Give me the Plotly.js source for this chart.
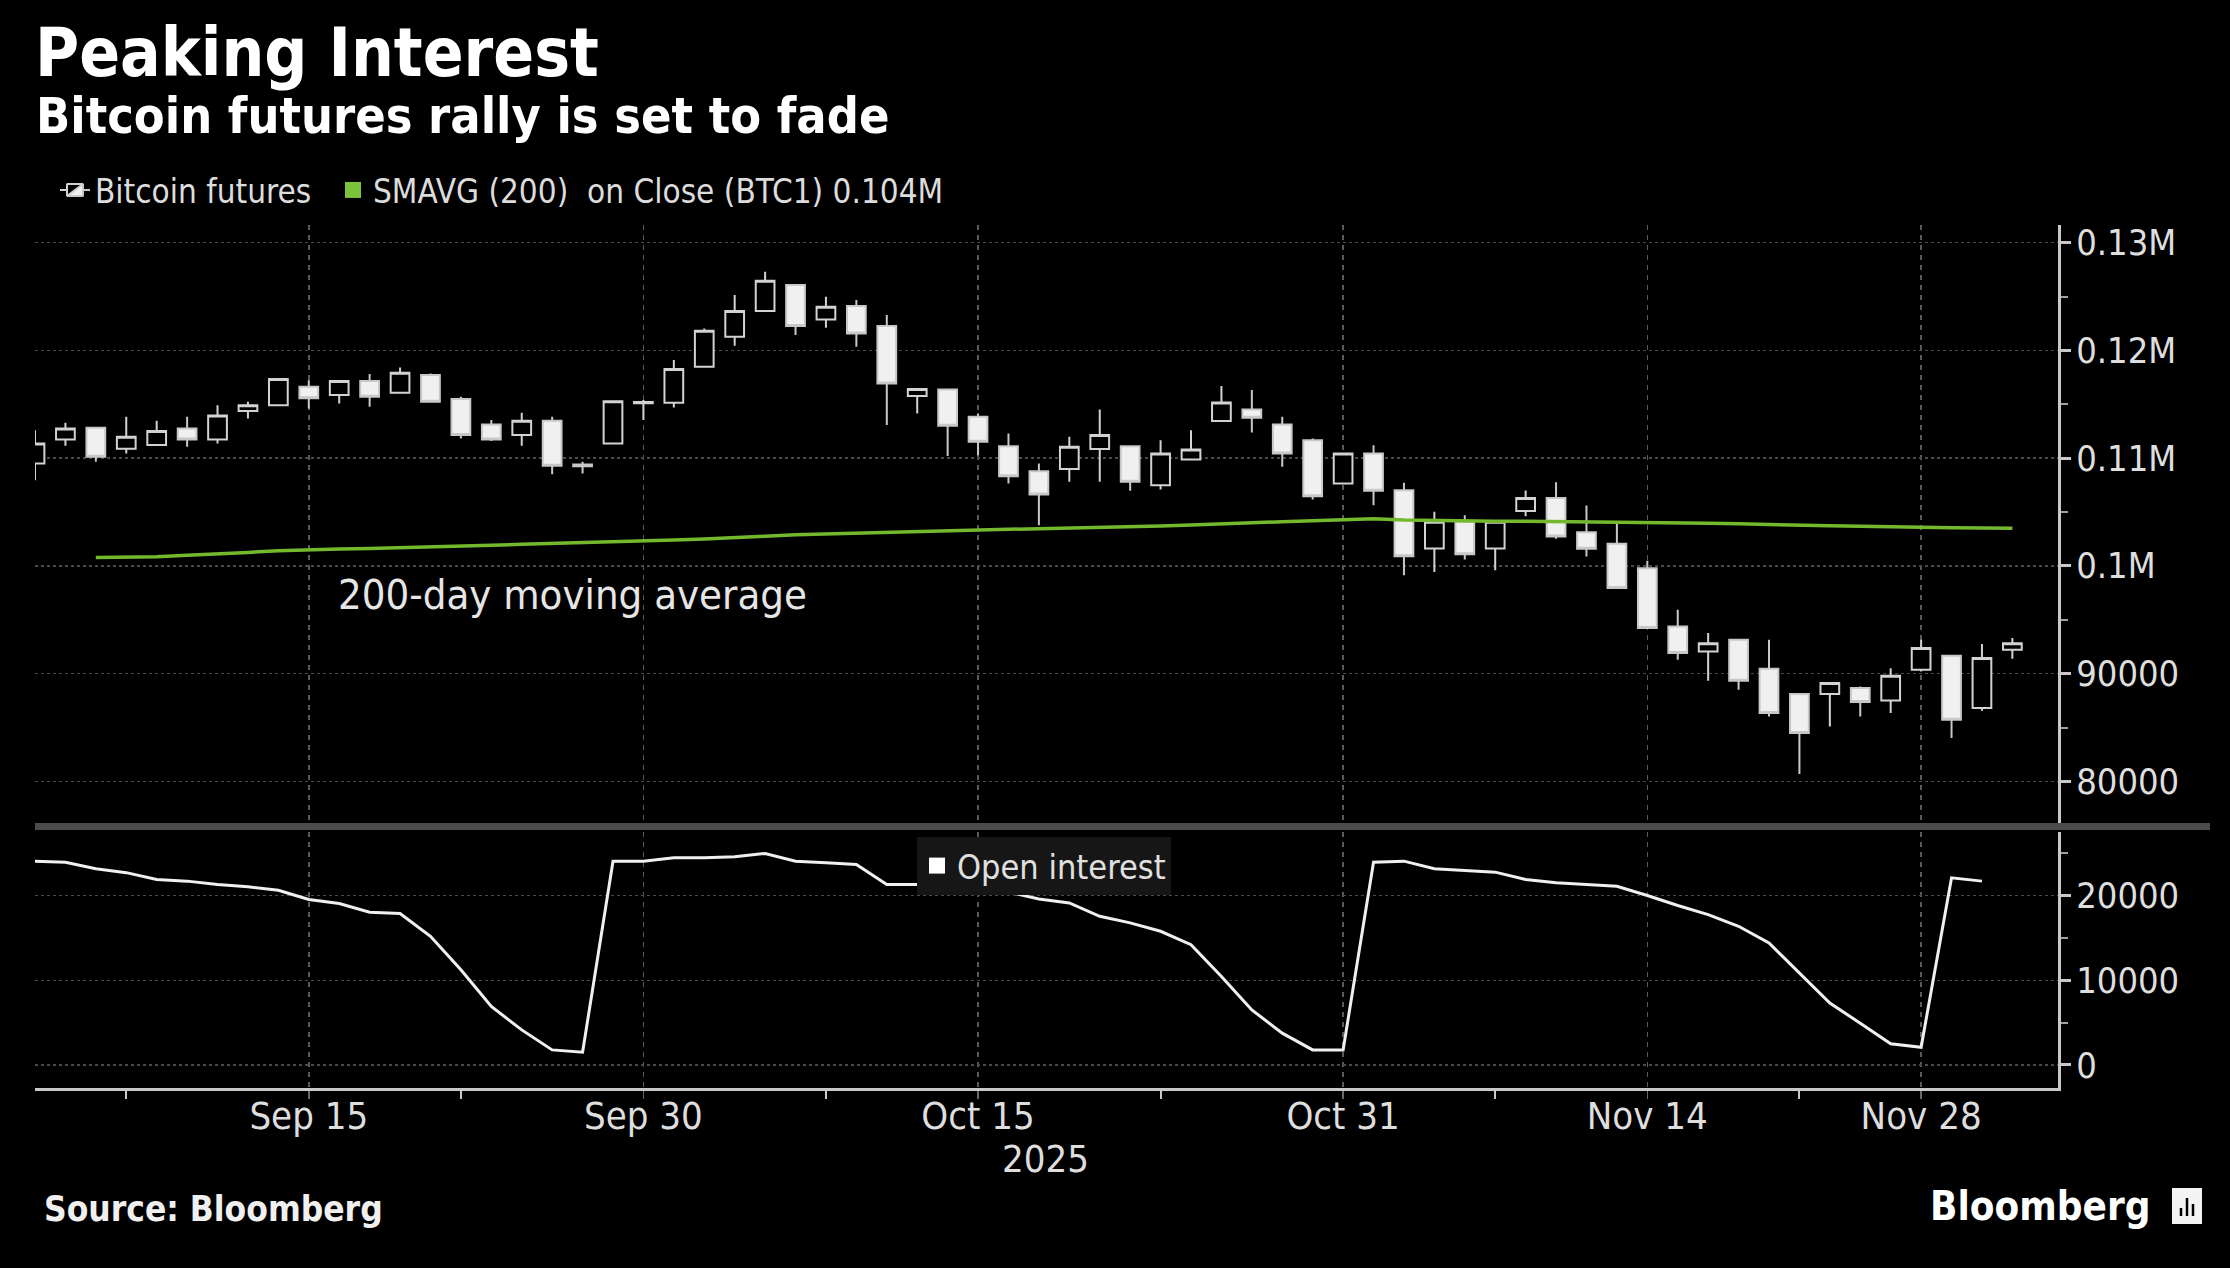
<!DOCTYPE html>
<html>
<head>
<meta charset="utf-8">
<script src="https://cdn.plot.ly/plotly-3.0.1.min.js"></script>
<style>
  html, body { margin: 0; padding: 0; background: #000; }
  #chart { width: 2230px; height: 1268px; }
</style>
</head>
<body>
<div id="chart"></div>
<script>
// trading sessions (CME BTC1, Thanksgiving closed)
const days = [
  '2025-09-02','2025-09-03','2025-09-04','2025-09-05','2025-09-08','2025-09-09','2025-09-10','2025-09-11','2025-09-12',
  '2025-09-15','2025-09-16','2025-09-17','2025-09-18','2025-09-19','2025-09-22','2025-09-23','2025-09-24','2025-09-25',
  '2025-09-26','2025-09-29','2025-09-30','2025-10-01','2025-10-02','2025-10-03','2025-10-06','2025-10-07','2025-10-08',
  '2025-10-09','2025-10-10','2025-10-13','2025-10-14','2025-10-15','2025-10-16','2025-10-17','2025-10-20','2025-10-21',
  '2025-10-22','2025-10-23','2025-10-24','2025-10-27','2025-10-28','2025-10-29','2025-10-30','2025-10-31','2025-11-03',
  '2025-11-04','2025-11-05','2025-11-06','2025-11-07','2025-11-10','2025-11-11','2025-11-12','2025-11-13','2025-11-14',
  '2025-11-17','2025-11-18','2025-11-19','2025-11-20','2025-11-21','2025-11-24','2025-11-25','2025-11-26','2025-11-28',
  '2025-12-01','2025-12-02','2025-12-03'
];

const open = [
  109500,111730,112820,110870,111210,112760,111730,114370,114920,
  116630,115850,117150,116070,117710,115480,113130,112140,113470,
  109400,111360,115100,115140,118480,121270,123650,126070,122880,
  124120,122260,115760,116380,113840,111110,108790,109000,110840,
  111110,107490,109880,113440,114520,113130,111670,107650,110430,
  107030,101610,104090,101610,105100,106290,103130,102050,99790,
  94380,92060,93140,90450,88100,88100,88660,87510,90360,
  91660,86800,92210
];
const high = [
  112600,113280,112900,113840,113470,113840,114920,115230,117400,
  117240,117240,117800,118420,117860,115700,113530,114210,113840,
  109660,115350,115390,119100,122040,125140,127310,126150,124980,
  124670,123280,116450,116470,114150,112290,109500,111980,114520,
  111200,111670,112600,116690,116320,113840,111830,110500,111200,
  107710,105020,104710,104150,107000,107770,105610,104120,100470,
  95930,93760,93200,93140,88150,89150,88810,90510,93140,
  91700,92740,93300
];
const low = [
  107960,111150,109660,110430,111150,111050,111360,113680,114850,
  114610,115080,114770,116000,115200,111830,111600,111150,108510,
  108580,111300,113530,114710,118450,120430,123600,121420,122100,
  120340,113070,114150,110190,110280,107650,103780,107800,107800,
  106970,107090,109850,113400,112380,109200,106160,107600,105630,
  99130,99440,100590,99600,104600,102510,100880,97900,94200,
  91290,89340,88500,86030,80680,85100,86030,86340,90200,
  84020,86550,91380
];
const close = [
  111360,112760,110120,111980,112510,111730,113960,114920,117340,
  115570,117150,115700,117930,115230,112140,111730,113470,109290,
  109250,115290,115200,118270,121830,123650,126470,122260,124060,
  121580,116930,116410,113000,111520,108330,106630,111050,112140,
  107800,110430,110800,115170,113750,110430,106470,110430,106970,
  100900,104090,101080,104090,106300,102730,101590,97940,94230,
  91910,92830,89340,86340,84480,89120,87360,89800,92370,
  85720,91440,92830
];

// 200-day simple moving average on close
const smavg = [
  null,null,100770,100800,100850,100990,101100,101250,101400,
  101520,101570,101620,101680,101770,101850,101920,102000,102070,
  102150,102250,102320,102400,102500,102600,102750,102900,102980,
  103050,103120,103200,103260,103350,103400,103450,103500,103550,
  103620,103700,103800,103920,104020,104100,104180,104280,104380,
  104250,104200,104180,104150,104150,104120,104100,104100,104080,
  104000,103950,103900,103820,103780,103720,103680,103620,103580,
  103550,103520,103500
];

// open interest (contracts)
const openInterest = [
  24060,23940,23160,22700,21900,21700,21300,21030,20630,
  19530,19050,18030,17870,15190,11240,6900,4140,1780,
  1500,24060,24060,24460,24460,24580,24970,24060,23870,
  23670,21300,21300,21100,20900,20400,19600,19130,17550,
  16770,15780,14200,10450,6500,3750,1780,1780,23940,
  24060,23160,23000,22760,21900,21500,21300,21100,20000,
  18820,17750,16370,14400,10850,7300,4930,2490,2090,
  22090,21700,null
];

const tickDays = ['2025-09-15','2025-09-30','2025-10-15','2025-10-31','2025-11-14','2025-11-28'];
const tickLabels = ['Sep 15','Sep 30','Oct 15','Oct 31','Nov 14','Nov 28'];
const minorDays = ['2025-09-05','2025-09-22','2025-10-08','2025-10-23','2025-11-07','2025-11-21'];
const priceTicks = [80000, 90000, 100000, 110000, 120000, 130000];
const priceLabels = ['80000','90000','0.1M','0.11M','0.12M','0.13M'];
const oiTicks = [0, 10000, 20000];

const FONT = '"DejaVu Sans Condensed", "Liberation Sans Narrow", "DejaVu Sans", sans-serif';
const W = 2230, H = 1268;
const M = {l: 35, r: 172, t: 225, b: 180};
// pixel -> paper helpers
const PW = W - M.l - M.r, PH = H - M.t - M.b;
function px(x) { return (x - M.l) / PW; }
function py(y) { return (H - M.b - y) / PH; }

const xi = days.map(function(d, i) { return i; });
const idx = function(list) { return list.map(function(d) { return days.indexOf(d); }); };

const candles = {
  type: 'candlestick',
  name: 'Bitcoin futures',
  x: xi, open: open, high: high, low: low, close: close,
  text: days,
  xaxis: 'x', yaxis: 'y',
  whiskerwidth: 0,
  increasing: {line: {color: '#d2d2d2', width: 2}, fillcolor: '#000000'},
  decreasing: {line: {color: '#c8c8c8', width: 2}, fillcolor: '#f0f0f0'},
  legend: 'legend'
};

const maLine = {
  type: 'scatter', mode: 'lines',
  x: xi, y: smavg,
  xaxis: 'x', yaxis: 'y',
  line: {color: '#74b82e', width: 3.5},
  showlegend: false
};
const maKey = {
  type: 'scatter', mode: 'markers',
  x: [null], y: [null],
  name: 'SMAVG (200) \u00a0on Close (BTC1) 0.104M',
  marker: {symbol: 'square', size: 20, color: '#7cc23a'},
  legend: 'legend3'
};

const oiLine = {
  type: 'scatter', mode: 'lines',
  x: xi, y: openInterest,
  xaxis: 'x', yaxis: 'y2',
  line: {color: '#f0f0f0', width: 3},
  showlegend: false
};
const oiKey = {
  type: 'scatter', mode: 'markers',
  x: [null], y: [null], yaxis: 'y2',
  name: 'Open interest',
  marker: {symbol: 'square', size: 20, color: '#ffffff'},
  legend: 'legend2'
};

const yStyle = {
  side: 'right', anchor: 'x',
  showgrid: true, gridcolor: '#4a4a4a', griddash: 'dot', gridwidth: 1.5,
  showline: true, linecolor: '#c8c8c8', linewidth: 3,
  ticks: 'outside', ticklen: 10, tickwidth: 3, tickcolor: '#c8c8c8',
  ticklabelstandoff: -2,
  tickfont: {family: FONT, size: 36, color: '#dedede'},
  minor: {tick0: 0, dtick: 5000, ticks: 'outside', ticklen: 7, tickwidth: 2, tickcolor: '#a0a0a0', showgrid: false},
  zeroline: false, fixedrange: true
};

const legendStyle = {
  orientation: 'h', xanchor: 'left', yanchor: 'middle',
  font: {family: FONT, size: 33, color: '#dcdcdc'},
  bgcolor: 'rgba(0,0,0,0)', itemwidth: 30, borderwidth: 0
};

const layout = {
  width: W, height: H,
  paper_bgcolor: '#000000', plot_bgcolor: '#000000',
  margin: M,
  font: {family: FONT, color: '#dcdcdc'},
  boxgap: 0.12,
  hovermode: false,
  xaxis: {
    anchor: 'y2', range: [0, 66.5],
    tickmode: 'array', tickvals: idx(tickDays), ticktext: tickLabels,
    showgrid: true, gridcolor: '#5a5a5a', griddash: '5px,5px', gridwidth: 1.5,
    showline: true, linecolor: '#c8c8c8', linewidth: 3,
    ticks: 'outside', ticklen: 8, tickwidth: 1.5, tickcolor: '#6a6a6a',
    ticklabelstandoff: -16,
    tickfont: {family: FONT, size: 38, color: '#dedede'},
    minor: {tickmode: 'array', tickvals: idx(minorDays), ticks: 'outside', ticklen: 8, tickwidth: 2, tickcolor: '#c8c8c8', showgrid: false},
    zeroline: false, fixedrange: true,
    rangeslider: {visible: false}
  },
  yaxis: Object.assign({}, yStyle, {
    domain: [py(825), 1], range: [75950, 131640],
    tickmode: 'array', tickvals: priceTicks, ticktext: priceLabels
  }),
  yaxis2: Object.assign({}, yStyle, {
    domain: [0, py(832)], range: [-2720, 27500],
    tickmode: 'array', tickvals: oiTicks, tickformat: 'd'
  }),
  legend: Object.assign({}, legendStyle, {x: px(55), y: py(190)}),
  legend3: Object.assign({}, legendStyle, {x: px(333), y: py(190)}),
  legend2: Object.assign({}, legendStyle, {x: px(917), y: py(866), bgcolor: '#161616',
    font: {family: FONT, size: 34, color: '#e0e0e0'}}),
  shapes: [
    {type: 'rect', xref: 'paper', yref: 'paper', x0: 0, x1: px(2210), y0: py(830), y1: py(823),
     fillcolor: '#4b4b4b', line: {width: 0}, layer: 'above'},
    {type: 'rect', xref: 'paper', yref: 'paper', x0: px(2172), x1: px(2202), y0: py(1224), y1: py(1188),
     fillcolor: '#f4f4f4', line: {width: 0}},
    {type: 'line', xref: 'paper', yref: 'paper', x0: px(2181), x1: px(2181), y0: py(1216), y1: py(1208),
     line: {color: '#000', width: 2.5}},
    {type: 'line', xref: 'paper', yref: 'paper', x0: px(2187), x1: px(2187), y0: py(1216), y1: py(1198),
     line: {color: '#000', width: 2.5}},
    {type: 'line', xref: 'paper', yref: 'paper', x0: px(2193), x1: px(2193), y0: py(1216), y1: py(1204),
     line: {color: '#000', width: 2.5}}
  ],
  annotations: [
    {text: '<b>Peaking Interest</b>', x: px(33), y: py(53), xref: 'paper', yref: 'paper',
     xanchor: 'left', yanchor: 'middle', showarrow: false, font: {family: FONT, size: 67, color: '#ffffff'}},
    {text: '<b>Bitcoin futures rally is set to fade</b>', x: px(34), y: py(116), xref: 'paper', yref: 'paper',
     xanchor: 'left', yanchor: 'middle', showarrow: false, font: {family: FONT, size: 50, color: '#ffffff'}},
    {text: '200-day moving average', x: px(336), y: py(594), xref: 'paper', yref: 'paper',
     xanchor: 'left', yanchor: 'middle', showarrow: false, font: {family: FONT, size: 41.5, color: '#e6e6e6'}},
    {text: '2025', x: px(1045), y: py(1159), xref: 'paper', yref: 'paper',
     xanchor: 'center', yanchor: 'middle', showarrow: false, font: {family: FONT, size: 38, color: '#dedede'}},
    {text: '<b>Source: Bloomberg</b>', x: px(42), y: py(1209), xref: 'paper', yref: 'paper',
     xanchor: 'left', yanchor: 'middle', showarrow: false, font: {family: FONT, size: 35, color: '#f0f0f0'}},
    {text: '<b>Bloomberg</b>', x: px(2152), y: py(1206), xref: 'paper', yref: 'paper',
     xanchor: 'right', yanchor: 'middle', showarrow: false, font: {family: FONT, size: 40, color: '#ffffff'}}
  ]
};

Plotly.newPlot('chart', [maLine, candles, maKey, oiLine, oiKey], layout, {displayModeBar: false, staticPlot: true});
</script>
</body>
</html>
